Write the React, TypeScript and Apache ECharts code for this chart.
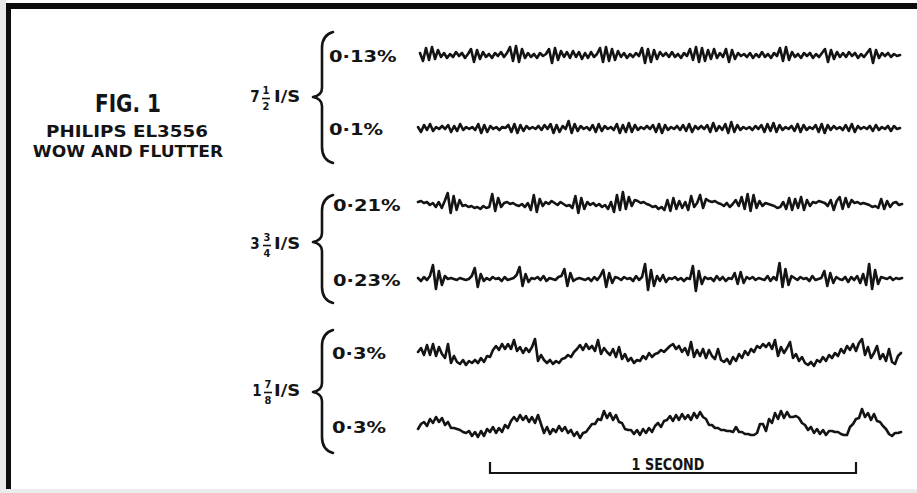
import React, { useEffect, useRef } from "react";
import * as echarts from "echarts";

// ---------- data (deflections) ----------
const trace1 = [
  2, -6, 7, -5, 8, -4, 5,
  -2, 2, -3, 1, -2, 3, -1, 2, -3, 1,
  6, -7, 5, -4, 3,
  -2, 1, -3, 2, -1, 3, -2, 2,
  8, -6, 9, -7, 6, -3,
  2, -2, 1, -3, 2, -1, 1,
  6, -8, 7, -5, 4, -2,
  3, -3, 4, -2, 3, -4, 2, -3, 3, -2, 1,
  7, -7, 8, -6, 6, -5, 4,
  -2, 2, -3, 1, -2, 2, -1,
  7, -8, 6, -7, 5, -4, 3,
  -1, 2, -2, 3, -2, 1, -3, 2, -1,
  6, -5, 8, -7, 7, -6, 5, -4, 6, -3, 2,
  -2, 6, -7, 5, -4, 2, -1, 1,
  -2, 2, -3, 1, -2, 3, -2, 1, -3, 2, -1,
  7, -6, 8, -5, 3,
  -2, 1, -3, 2, -1, 2, -3, 1, -2, 2,
  6, -7, 5, -4, 3, -2,
  2, -2, 3, -1, 2, -3, 1, -2, 2,
  6, -8, 5, -3, 2,
  -1, 2, -2, 1, -1, 0,
];

const trace2 = [
  1, -4, 3, -2, 4, -3, 1, -1, 2, -1,
  3, -4, 2, -3, 4, -2, 1, -1, 1, -2,
  4, -5, 3, -4, 2, -1, 1, -2, 1, 0,
  3, -4, 4, -5, 3, -3, 2, -1, 1, -1,
  2, -2, 3, -1, 4, -5, 3, -4, 2, -1,
  7, -5, 4, -3, 2, -1, 1, -2, 3, -4,
  4, -3, 2, -1, 1, -2, 4, -5, 3, -4,
  5, -4, 3, -2, 1, -1, 2, -1, 3, -4,
  4, -5, 3, -2, 1, -1, 2, -2, 3, -3,
  4, -4, 2, -1, 2, -1, 3, -4, 5, -3,
  2, -2, 4, -5, 6, -4, 3, -2, 1, -1,
  1, -2, 2, -1, 3, -4, 4, -3, 5, -4,
  3, -2, 1, -1, 2, -3, 4, -4, 3, -2,
  1, -1, 3, -4, 4, -5, 3, -2, 2, -1,
  1, -2, 3, -3, 4, -4, 2, -1, 1, -1,
  2, -3, 3, -2, 1, -1, 2, -3, 2, -1, 0,
];

const trace3 = [
  2, 3, 1, 2, -1, 1, -3, 2, -4, 3,
  11, -9, 8, -6, 4,
  -2, -1, -3, -2, -4, -3, -5, -2, -4, -3,
  10, -7, 6, -3,
  1, 2, 0, 1, -1, -2, 0, -3, 1,
  -6, 9, -8, 5, -2,
  2, 0, 3, 1, -1, 2, 0, -2, -1, -4,
  8, -9, 6, -5, 2,
  -1, 1, -2, 0, -3, -1, -5, 2,
  -8, 9, -6, 12, -5, 7, -2, 4,
  3, 1, 2, 0, -1, -3, -2, -5, -3,
  -6, 4, -7, 6, -5, 3, -4, 2, -6, 8, -3,
  1, 9, -4, 5,
  3, 2, 3, 1, 0, -2, 1, -3, 0, 4, -2,
  7, -5, 10, -7, 9, -4, 3, -2,
  1, 0, -1, -2, -4, -3, 2, -5, 6, -6,
  5, -4, 7, -6, 4, -2,
  2, 1, 3, 2, 1, -2, 4, -6, 3,
  7, -5, 6, -3, 4, 1, 2, 0,
  1, 0, -1, -3, -2, -4, 5, -5, 3, -3, 1, 2, -1, 0,
];

const trace4 = [
  1, -2, 2, -1, 3,
  14, -10, 8, -6, 3,
  0, 1, 0, -1, 1, 0, -1, 0,
  3, 11, -8, 5, -2,
  1, -1, 2, 0, 1, -2, 2, -1, 0, 1,
  4, 12, -7, 5, -3,
  1, 0, 2, -1, 3, -2, 1, 0, -1, 2,
  3, 10, -7, 6, -2,
  0, 1, 0, -1, 1, -2, 2, -1, 3,
  9, -8, 6, -4, 2,
  1, -1, 2, 0, 1, -2, 3, -1, 2,
  15, -11, 9, -7, 3,
  -2, 4, -3, 1, 0, 2, -1, 1, -2, 1, 0,
  13, -12, 8, -5, 2,
  0, 1, -2, 3, -1, 2, -2, 1, 0,
  6, -5, 7, -4, 2,
  0, 2, -1, 1, 0, -1, 3, -2, 2, -1,
  16, -8, 10, -6, 3,
  1, -1, 2, 0, 1, -2, 3, -1, 0, 1,
  8, -7, 6, -4, 2,
  0, -1, 2, -3, 2, -1, 3, -4, 5,
  -6, 15, -10, 9, -5, 2,
  1, 0, 2, -1, 1, 0, 1,
];

const trace5 = [
  0, 4, -3, 7, -3, 8, -4, 5, -2, -6, 8, -11, -4, -10, -12, -8, -13, -9, -11, -8,
  -11, -6, -10, -4, -5, 2, 6, 2, 8, 3, 8, 3, 12, 1, 5, -1, 4, 0, 5, 13,
  -9, -3, -8, -11, -8, -12, -9, -11, -7, -6, -3, -5, 0, 3, 7, 2, 8, 3, 6, 1,
  12, -2, 4, 0, -3, 3, -5, 5, -7, -2, -9, -6, -11, -8, -9, -4, -7, -1, -5, -2,
  -1, 2, 0, 3, 6, 8, 3, 6, 0, 4, -3, 10, -5, 2, -4, 3, -6, 2, -4, -7,
  3, -8, -10, -7, -12, -5, -9, -2, -6, 1, -3, 3, 0, 6, 4, 8, 5, 9, 3, 12,
  -4, 5, -1, 4, 10, -6, -2, -9, -5, -11, -13, -10, -14, -8, -10, -5, -9, -3, -6, -1,
  -4, 3, -1, 6, 2, 8, 1, 9, 13, -3, 5, -6, -1, 6, -7, -2, -9, 3, -10, -12,
  -4, -1,
];

const trace6 = [
  -3, 2, 4, 0, 7, 3, 9, 4, 8, 1, 4, -2, -2, -3, -4, -6, -7, -5, -10, -6,
  -11, -5, -10, -3, -6, -1, -7, -2, -6, 1, -2, 5, 9, 5, 11, 6, 10, 4, 9, 3,
  11, 2, -7, -1, -8, -3, -6, 0, -5, -1, -7, -4, -10, -6, -12, -7, -6, -2, 2, 2,
  7, 6, 15, 8, 13, 6, 11, 4, 3, -3, -4, -4, -8, -4, -9, -3, -7, -2, -6, 0,
  3, -1, 5, 6, 10, 5, 11, 6, 12, 7, 11, 6, 13, 8, 14, 9, 7, 1, 1, -2,
  -2, -4, -4, -5, -5, -6, -1, -6, -6, -8, -8, -9, -9, -7, 2, 2, -5, 7, 3, 13,
  7, 15, 8, 14, 9, 9, 10, 8, 3, 1, -4, -1, -7, -3, -8, -4, -9, -5, -5, -6,
  -6, -8, -9, -9, -1, 2, 7, 8, 17, 9, 13, 6, 12, 5, 4, 0, -3, -8, -10, -7,
  -7, -6,
];

const traces = [trace1, trace2, trace3, trace4, trace5, trace6];
const traceLabels = ["0·13%", "0·1%", "0·21%", "0·23%", "0·3%", "0·3%"];
const speedWhole = ["7", "3", "1"];
const speedNumerator = ["1", "3", "7"];
const speedDenominator = ["2", "4", "8"];
const speedUnit = "I/S";
const figTitle = "FIG. 1";
const figLines = ["PHILIPS EL3556", "WOW AND FLUTTER"];
const scaleBarLabel = "1 SECOND";

// ---------- layout ----------
const W = 917;
const H = 493;
const traceCenters = [55, 128, 204, 279, 352, 426];
const traceLeft = [420, 418, 418, 418, 418, 418];
const traceRight = [900, 900, 902, 902, 901, 901];
const labelX = [329, 329, 333, 333, 332, 332];
const groupTip = [97, 242, 392];
const groupTop = [32, 195, 330];
const groupBottom = [163, 303, 453];
const INK = "#141414";
const FONT = "DejaVu Sans";

function bracePath(ht: number, hb: number) {
  return (
    `M 20 ${-ht} C 13 ${-ht + 2} 9 ${-ht + 8} 9 ${-ht + 16} ` +
    `L 9 -9 C 9 -4 5 -1 0 0 C 5 1 9 4 9 9 ` +
    `L 9 ${hb - 16} C 9 ${hb - 8} 13 ${hb - 2} 20 ${hb}`
  );
}

function txt(
  text: string,
  x: number,
  y: number,
  size: number,
  align: string,
  scaleX = 1,
  weight: string = "bold"
) {
  return {
    type: "text",
    x,
    y,
    scaleX,
    silent: true,
    style: {
      text,
      x: 0,
      y: 0,
      fill: INK,
      fontSize: size,
      fontWeight: weight,
      fontFamily: FONT,
      align,
      textAlign: align,
      verticalAlign: "middle",
      textVerticalAlign: "middle",
    },
  };
}

export default function App() {
  const ref = useRef<HTMLDivElement>(null);

  useEffect(() => {
    if (!ref.current) return;
    for (let g = 0; g < 3; g++) {
      const ht = groupTip[g] - groupTop[g];
      const hb = groupBottom[g] - groupTip[g];
      echarts.graphic.registerShape(
        "brace" + g,
        echarts.graphic.extendPath(bracePath(ht, hb), {}) as any
      );
    }
    const chart = echarts.init(ref.current, null, { renderer: "svg" });

    const grids = traces.map((_, i) => ({
      left: traceLeft[i],
      top: traceCenters[i] - 20,
      width: traceRight[i] - traceLeft[i],
      height: 40,
      containLabel: false,
    }));
    const xAxes = traces.map((t, i) => ({
      type: "value",
      gridIndex: i,
      min: 0,
      max: t.length - 1,
      show: false,
    }));
    const yAxes = traces.map((_, i) => ({
      type: "value",
      gridIndex: i,
      min: -20,
      max: 20,
      show: false,
    }));
    const series = traces.map((t, i) => ({
      type: "line",
      xAxisIndex: i,
      yAxisIndex: i,
      data: t.map((v, j) => [j, v]),
      showSymbol: false,
      symbol: "none",
      silent: true,
      lineStyle: { color: INK, width: 2.6, join: "round", cap: "round" },
    }));

    const graphics: any[] = [];
    // frame
    graphics.push({ type: "rect", shape: { x: 0, y: 0, width: 6, height: H }, style: { fill: "#e9e9e9" }, silent: true });
    graphics.push({ type: "rect", shape: { x: 0, y: 489, width: W, height: 4 }, style: { fill: "#ececec" }, silent: true });
    graphics.push({ type: "rect", shape: { x: 6, y: 3, width: W - 6, height: 6 }, style: { fill: "#0c0c0c" }, silent: true });
    graphics.push({ type: "rect", shape: { x: 6, y: 3, width: 5, height: 486 }, style: { fill: "#0c0c0c" }, silent: true });

    // figure caption
    graphics.push(txt(figTitle, 128, 103, 25, "center", 0.8));
    graphics.push(txt(figLines[0], 127, 132, 15, "center", 1.22));
    graphics.push(txt(figLines[1], 128, 152, 15, "center", 1.14));

    // speed groups
    const wholeX = [255, 255, 257];
    const wholeY = [97, 244, 391];
    const fracX = [266, 267, 268];
    for (let g = 0; g < 3; g++) {
      graphics.push(txt(speedWhole[g], wholeX[g], wholeY[g], 15, "center", 0.9));
      graphics.push(txt(speedNumerator[g], fracX[g], wholeY[g] - 7, 11, "center", 0.9));
      graphics.push({
        type: "line",
        silent: true,
        shape: { x1: fracX[g] - 4, y1: wholeY[g] + 1.5, x2: fracX[g] + 4, y2: wholeY[g] + 1.5 },
        style: { stroke: INK, lineWidth: 1.6 },
      });
      graphics.push(txt(speedDenominator[g], fracX[g], wholeY[g] + 9, 11, "center", 0.9));
      graphics.push(txt(speedUnit, 274, wholeY[g], 15, "left", 1.2));
      graphics.push({
        type: "brace" + g,
        x: 313,
        y: groupTip[g],
        silent: true,
        style: { stroke: INK, fill: "none", lineWidth: 2.6, lineCap: "round", lineJoin: "round" },
      });
    }

    // trace labels
    traceLabels.forEach((l, i) => {
      graphics.push(txt(l, labelX[i], traceCenters[i] + 1, 16, "left", 1.22));
    });

    // scale bar
    graphics.push({
      type: "polyline",
      silent: true,
      shape: { points: [[490, 462], [490, 473], [856, 473], [856, 462]] },
      style: { stroke: INK, lineWidth: 2.2, fill: "none" },
    });
    graphics.push(txt(scaleBarLabel, 668, 464, 16, "center", 0.8));

    chart.setOption({
      animation: false,
      backgroundColor: "#ffffff",
      grid: grids,
      xAxis: xAxes,
      yAxis: yAxes,
      series,
      graphic: { elements: graphics },
    } as any);

    return () => chart.dispose();
  }, []);

  return (
    <div
      ref={ref}
      style={{ position: "fixed", left: 0, top: 0, width: W, height: H, background: "#fff" }}
    />
  );
}
